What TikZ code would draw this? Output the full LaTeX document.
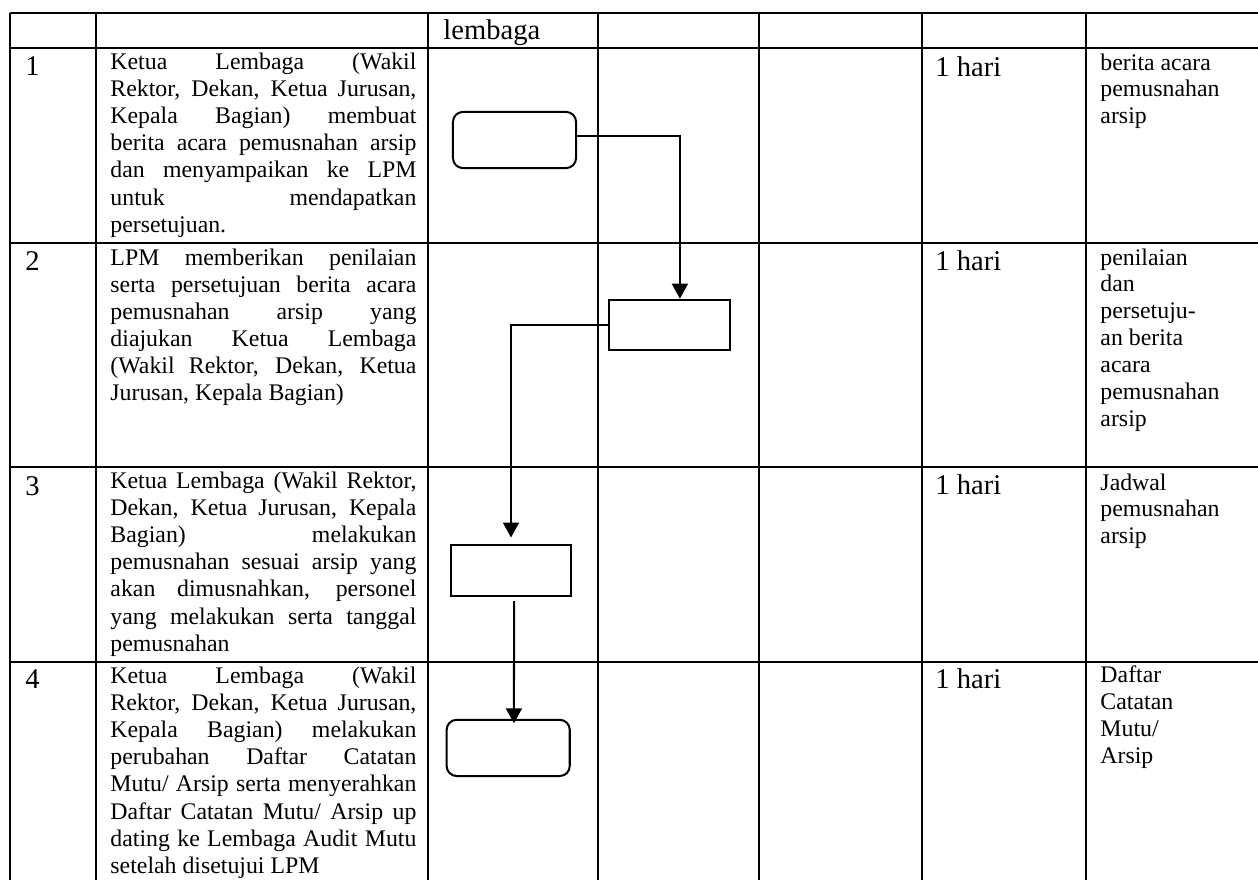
\documentclass[tikz,border=0pt]{standalone}
\usepackage{fontspec}
\setmainfont{Liberation Serif}
\usetikzlibrary{arrows.meta}
\newcommand\jl[1]{\makebox[\linewidth][s]{#1}\par}
\newcommand\desc[1]{\parbox[t]{128.5pt}{\fontsize{10}{11.4}\selectfont #1}}
\newcommand\outp[1]{\parbox[t]{150pt}{\raggedright\fontsize{10}{11.3}\selectfont #1}}
\begin{document}
\begin{tikzpicture}[x=0.42pt,y=-0.42pt,
  grid/.style={line width=0.85pt},
  flow/.style={draw, line width=0.85pt, inner sep=0pt},
  proc/.style={flow, minimum width=50.8pt, minimum height=21.2pt},
  term/.style={flow, rounded corners=4.2pt, minimum width=51.7pt, minimum height=23.6pt},
  conn/.style={line width=0.85pt, -{Triangle[width=6.7pt,length=6.3pt]}},
  big/.style={inner sep=0pt, anchor=base west, font=\fontsize{12}{14}\selectfont},
  small/.style={inner sep=0pt, anchor=base west, font=\fontsize{10}{11.4}\selectfont},
]
\useasboundingbox (0,0) rectangle (1258,879);
% table grid
\foreach \yy in {13,48,242.7,466.7,661.7}
  \draw[grid] (10,\yy) -- (1262,\yy);
\foreach \xx in {10,96,428,598,759,922,1086}
  \draw[grid] (\xx,13) -- (\xx,885);
% header
\node[big] (hdr) at (443,39.3) {lembaga};
% numbers
\node[big] (n1) at (25,75.3) {1};
\node[big] (n2) at (25,270.7) {2};
\node[big] (n3) at (25,495) {3};
\node[big] (n4) at (25,688.3) {4};
% descriptions
\node[small] (d1) at (110,69.3) {\desc{\jl{Ketua Lembaga (Wakil}\jl{Rektor, Dekan, Ketua Jurusan,}\jl{Kepala Bagian) membuat}\jl{berita acara pemusnahan arsip}\jl{dan menyampaikan ke LPM}\jl{untuk mendapatkan}persetujuan.}};
\node[small] (d2) at (110,265) {\desc{\jl{LPM memberikan penilaian}\jl{serta persetujuan berita acara}\jl{pemusnahan arsip yang}\jl{diajukan Ketua Lembaga}\jl{(Wakil Rektor, Dekan, Ketua}Jurusan, Kepala Bagian)}};
\node[small] (d3) at (110,488.3) {\desc{\jl{Ketua Lembaga (Wakil Rektor,}\jl{Dekan, Ketua Jurusan, Kepala}\jl{Bagian) melakukan}\jl{pemusnahan sesuai arsip yang}\jl{akan dimusnahkan, personel}\jl{yang melakukan serta tanggal}pemusnahan}};
\node[small] (d4) at (110,683.3) {\desc{\jl{Ketua Lembaga (Wakil}\jl{Rektor, Dekan, Ketua Jurusan,}\jl{Kepala Bagian) melakukan}\jl{perubahan Daftar Catatan}\jl{Mutu/ Arsip serta menyerahkan}\jl{Daftar Catatan Mutu/ Arsip up}\jl{dating ke Lembaga Audit Mutu}setelah disetujui LPM}};
% time
\node[big] (h1) at (935,76) {1 hari};
\node[big] (h2) at (935,270.7) {1 hari};
\node[big] (h3) at (935,494) {1 hari};
\node[big] (h4) at (935,688.3) {1 hari};
% outputs
\node[small] (o1) at (1100,70) {\outp{berita acara\\pemusnahan\\arsip}};
\node[small] (o2) at (1100,265) {\outp{penilaian\\dan\\persetuju-\\an berita\\acara\\pemusnahan\\arsip}};
\node[small] (o3) at (1100,490) {\outp{Jadwal\\pemusnahan\\arsip}};
\node[small] (o4) at (1100,682.7) {\outp{Daftar\\Catatan\\Mutu/\\Arsip}};
% flow boxes
\node[term] (b1) at (514.5,140) {};
\node[proc] (b2) at (669.2,324.9) {};
\node[proc] (b3) at (511,570.7) {};
\node[term] (b4) at (508.2,747.9) {};
% connectors
\draw[conn] ([yshift=1.7pt]b1.east) -| ([xshift=4.5pt]b2.north);
\draw[conn] (b2.west) -| ([yshift=2.9pt]b3.north);
\coordinate (t4) at ([xshift=2.4pt,yshift=-1.9pt]b4.north);
\draw[conn] ([xshift=1.3pt,yshift=-1.7pt]b3.south) -- (t4);
\end{tikzpicture}
\end{document}
